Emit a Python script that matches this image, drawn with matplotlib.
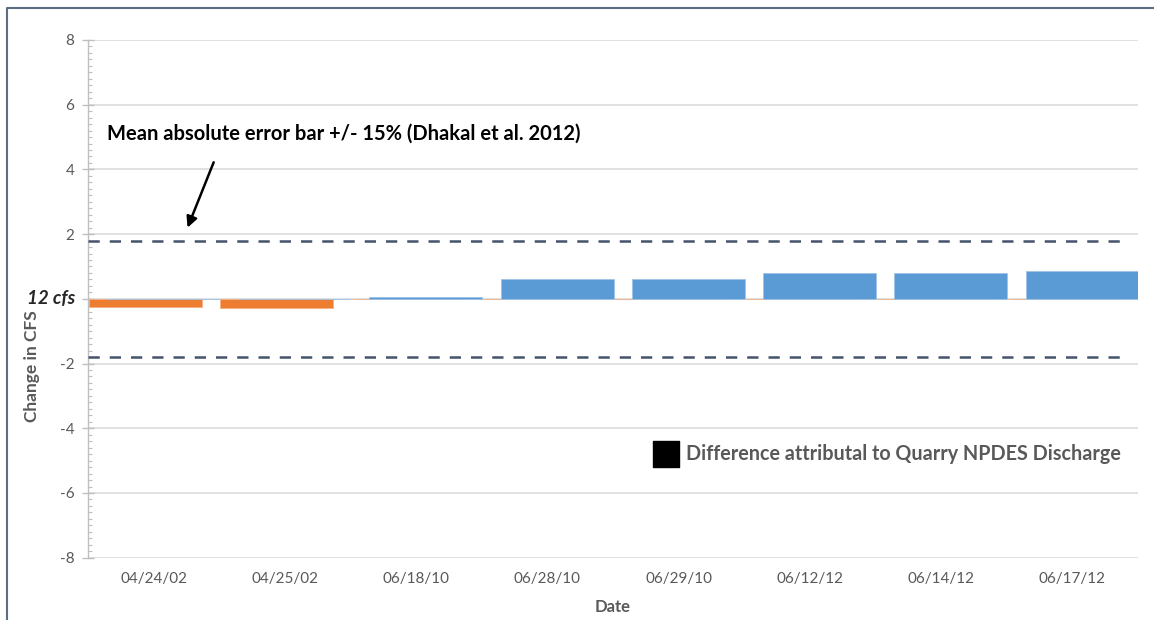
import matplotlib
matplotlib.use('Agg')
import matplotlib.pyplot as plt
from matplotlib.lines import Line2D
from matplotlib.ticker import MultipleLocator, FuncFormatter

plt.rcParams['font.family'] = ['Lato', 'DejaVu Sans']
plt.rcParams['axes.unicode_minus'] = False

#### data
dates = ['04/24/02', '04/25/02', '06/18/10', '06/28/10',
         '06/29/10', '06/12/12', '06/14/12', '06/17/12']
change_neg = [-0.24, -0.28, 0, 0, 0, 0, 0, 0]        # orange series
change_pos = [0, 0, 0.05, 0.60, 0.60, 0.81, 0.81, 0.85]  # blue series
error_band = 1.8   # +/- 15% of 12 cfs

grey_txt = '#595959'
fig = plt.figure(figsize=(11.54, 6.20), dpi=100)
ax = fig.add_axes([0.0763, 0.1005, 0.9099, 0.8350])

x = list(range(len(dates)))
bw = 0.86
ax.bar([i - 0.062 for i in x], change_neg, width=bw, color='#ED7D31',
       edgecolor='#F4B183', linewidth=0.6, zorder=3)
ax.bar([i + 0.074 for i in x], change_pos, width=bw, color='#5B9BD5',
       edgecolor='#9DC3E6', linewidth=0.6, zorder=3)

ax.set_xlim(-0.5, 7.5)
ax.set_ylim(-8, 8)

# dashed error band
ax.hlines([error_band, -error_band], -0.5, 7.36, colors='#44546A',
          linestyles=(0, (4.5, 4)), linewidth=1.8, zorder=4)

ax.yaxis.set_major_locator(MultipleLocator(2))
ax.yaxis.set_minor_locator(MultipleLocator(0.2))
# zero is labelled "12 cfs" separately
ax.yaxis.set_major_formatter(FuncFormatter(lambda v, p: '' if abs(v) < 1e-9 else '%d' % v))
ax.grid(axis='y', which='major', color='#D9D9D9', linewidth=1.1)
ax.set_axisbelow(True)

for s in ['top', 'right', 'bottom']:
    ax.spines[s].set_visible(False)
ax.spines['left'].set_color('#BFBFBF')
ax.spines['left'].set_linewidth(1.0)

ax.set_xticks(x)
ax.set_xticklabels(dates)
ax.tick_params(axis='x', length=0, pad=10, labelsize=11, labelcolor=grey_txt)
ax.tick_params(axis='y', which='major', direction='inout', length=8, width=1,
               color='#BFBFBF', pad=6, labelsize=11, labelcolor=grey_txt)
ax.tick_params(axis='y', which='minor', direction='in', length=3, width=0.8,
               color='#BFBFBF')

ax.set_xlabel('Date', fontsize=12, fontweight='bold', color=grey_txt, labelpad=10)
ax.set_ylabel('Change in CFS', fontsize=12.5, fontweight='bold', color=grey_txt,
              labelpad=0)
ax.yaxis.set_label_coords(-0.046, 0.37)

# 12 cfs marker on the zero line
ax.text(-0.6, 0, '12 cfs', ha='right', va='center', fontsize=13.5,
        fontweight='bold', fontstyle='italic', color='#262626')

# annotation
ax.annotate('', xy=(0.25, 2.12), xytext=(0.465, 4.3),
            arrowprops=dict(arrowstyle='-|>', color='black', lw=1.8,
                            mutation_scale=16))
ax.text(1.45, 5.1, 'Mean absolute error bar +/- 15% (Dhakal et al. 2012)',
        ha='center', va='center', fontsize=14.5, fontweight='bold', color='black')

# legend-like box
ax.scatter([3.90], [-4.8], marker='s', s=330, color='black', zorder=5)
ax.text(4.056, -4.8, 'Difference attributal to Quarry NPDES Discharge',
        ha='left', va='center', fontsize=14.2, fontweight='bold', color=grey_txt)

# chart frame (left and top edges visible)
fig.add_artist(Line2D([7 / 1154, 7 / 1154, 1.0], [0.0, 1 - 8 / 620, 1 - 8 / 620],
                      transform=fig.transFigure, color='#5D6D82', linewidth=1.5))

fig.savefig('out.png', dpi=100)
